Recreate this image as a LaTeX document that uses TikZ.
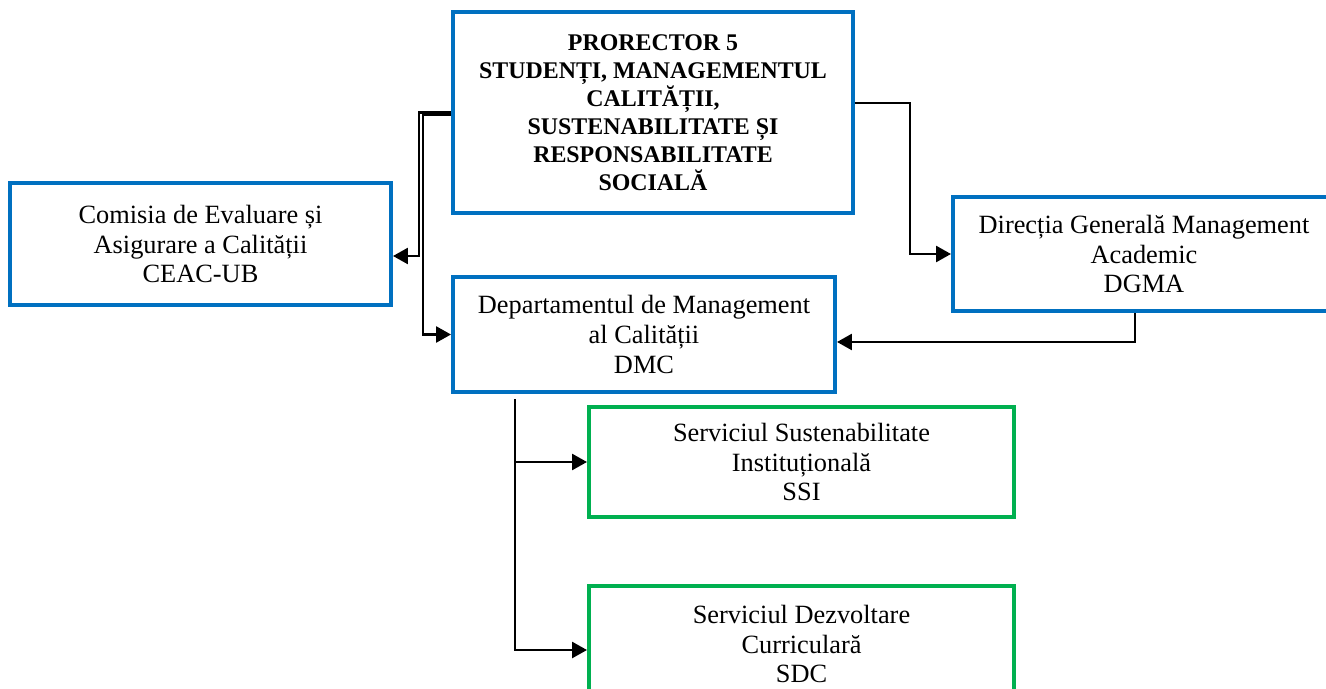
\documentclass[tikz,border=0pt]{standalone}
\usepackage{fontspec}
\setmainfont{Liberation Serif}
\usepackage{tikz}
\usetikzlibrary{arrows.meta, positioning, calc}
\definecolor{ubblue}{RGB}{0,112,192}
\definecolor{ubgreen}{RGB}{0,176,80}
\tikzset{unit/.style={draw=ubblue, line width=2.3pt, fill=white, align=center,
  font=\fontsize{15}{17}\selectfont}}
\tikzset{service/.style={unit, draw=ubgreen}}
\tikzset{head/.style={unit, font=\fontsize{13.6}{15.9}\selectfont\bfseries}}
\tikzset{link/.style={draw=black, line width=1.5pt, -{Triangle[length=0.3cm,width=0.32cm]}}}

\begin{document}
\begin{tikzpicture}[x=0.02cm, y=-0.02cm]
  \useasboundingbox (0,0) rectangle (1326,689);
  %Nodes
  \node[head, minimum width=8cm, minimum height=4.02cm] (pro) at (653,112.5)
    {PRORECTOR 5\\STUDENȚI, MANAGEMENTUL\\CALITĂȚII,\\SUSTENABILITATE ȘI\\RESPONSABILITATE\\SOCIALĂ};
  \node[unit, minimum width=7.62cm, minimum height=2.44cm] (ceac) at (200.5,244)
    {Comisia de Evaluare și\\Asigurare a Calității\\CEAC-UB};
  \node[unit, minimum width=7.64cm, minimum height=2.3cm, below=1.2cm of pro.south west, anchor=north west] (dmc)
    {Departamentul de Management\\al Calității\\DMC};
  \node[unit, minimum width=7.64cm, minimum height=2.28cm] (dgma) at (1144,254)
    {Direcția Generală Management\\Academic\\DGMA};
  \node[service, minimum width=8.5cm, minimum height=2.2cm] (ssi) at (801.5,462)
    {Serviciul Sustenabilitate\\Instituțională\\SSI};
  \node[service, minimum width=8.5cm, minimum height=2.32cm] (sdc) [below=1.3cm of ssi]
    {Serviciul Dezvoltare\\Curriculară\\SDC};
  % Edges
  \draw[link] (pro.west) -- ++(-32,0) |- ([yshift=-0.24cm]ceac.east);
  \draw[link] ([yshift=-0.04cm]pro.west) -- ++(-28,0) |- (dmc.west);
  \draw[link] ([yshift=0.19cm]pro.east) -- ++(55,0) |- (dgma.west);
  \draw[link] ([xshift=-0.18cm]dgma.south) |- ([yshift=-0.15cm]dmc.east);
  \coordinate (trunk) at ([xshift=1.28cm, yshift=-0.1cm]dmc.south west);
  \draw[link] (trunk) |- ([yshift=-0.12cm]sdc.west);
  \draw[link] (trunk |- ssi.west) -- (ssi.west);
\end{tikzpicture}
\end{document}
